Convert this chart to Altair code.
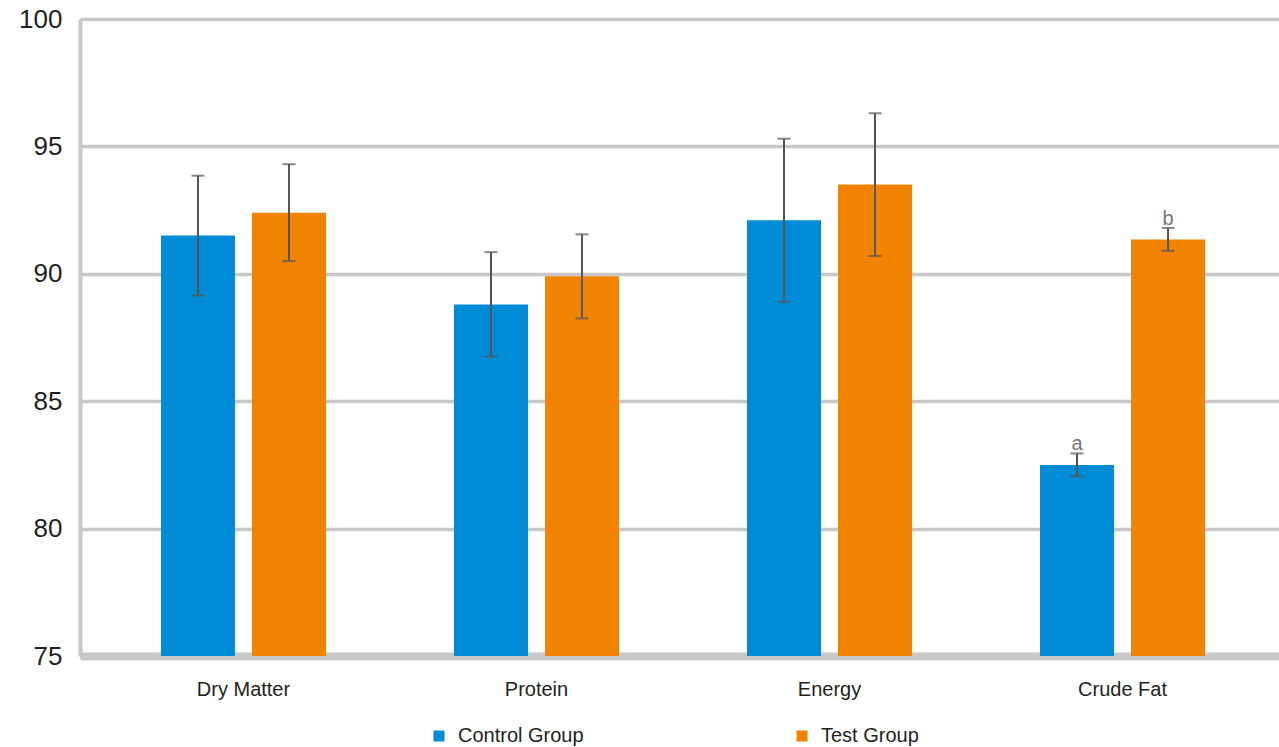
import altair as alt
import pandas as pd

# Digestibility (%) by nutrient, mean and standard deviation per group
categories = ["Dry Matter", "Protein", "Energy", "Crude Fat"]
groups = ["Control Group", "Test Group"]
control_mean = [91.5, 88.8, 92.1, 82.5]
control_sd = [2.35, 2.05, 3.2, 0.45]
test_mean = [92.4, 89.9, 93.5, 91.35]
test_sd = [1.9, 1.65, 2.8, 0.45]
# significance letters (only shown where the groups differ)
control_letter = ["", "", "", "a"]
test_letter = ["", "", "", "b"]
colors = ["#008bd6", "#f08300"]

rows = []
for i, cat in enumerate(categories):
    for grp, m, s, let in (
        (groups[0], control_mean[i], control_sd[i], control_letter[i]),
        (groups[1], test_mean[i], test_sd[i], test_letter[i]),
    ):
        rows.append({"nutrient": cat, "group": grp, "mean": m,
                     "low": m - s, "high": m + s, "letter": let})
df = pd.DataFrame(rows)

FONT = "Liberation Sans"

x_enc = alt.X("nutrient:N", sort=categories, title=None,
              scale=alt.Scale(paddingInner=0, paddingOuter=0.046, align=0.63),
              axis=alt.Axis(labelAngle=0, ticks=False, labelPadding=23,
                            labelFontSize=20, labelColor="#231f20", labelFont=FONT,
                            domainColor="#c8c8c8", domainWidth=8, grid=False))
x_off = alt.XOffset("group:N", sort=groups,
                    scale=alt.Scale(paddingInner=0.187, paddingOuter=0.703))
y_scale = alt.Scale(domain=[75, 100], zero=False, nice=False)

bars = alt.Chart(df).mark_bar().encode(
    x=x_enc,
    xOffset=x_off,
    y=alt.Y("mean:Q", scale=y_scale, title=None,
            axis=alt.Axis(values=[75, 80, 85, 90, 95, 100], ticks=False,
                          labelPadding=18, labelFontSize=26, labelColor="#231f20",
                          labelFont=FONT, domainColor="#c8c8c8", domainWidth=4,
                          gridColor="#c8c8c8", gridWidth=3.5)),
    y2=alt.datum(75),
    color=alt.Color("group:N", sort=groups,
                    scale=alt.Scale(domain=groups, range=colors),
                    legend=alt.Legend(title=None, orient="none", direction="horizontal",
                                      columns=2, legendX=349, legendY=707,
                                      symbolType="square", symbolSize=121,
                                      symbolStrokeWidth=0, labelFontSize=20,
                                      labelFont=FONT, labelColor="#231f20",
                                      labelOffset=9, columnPadding=208,
                                      labelLimit=400)),
)

whisker = alt.Chart(df).mark_rule(color="#555555", strokeWidth=2).encode(
    x=alt.X("nutrient:N", sort=categories),
    xOffset=x_off,
    y=alt.Y("low:Q", scale=y_scale),
    y2="high:Q",
)

cap_low = alt.Chart(df).mark_tick(color="#555555", thickness=2, size=13,
                                   orient="horizontal").encode(
    x=alt.X("nutrient:N", sort=categories),
    xOffset=x_off,
    y=alt.Y("low:Q", scale=y_scale),
)
cap_high = alt.Chart(df).mark_tick(color="#555555", thickness=2, size=13,
                                    orient="horizontal").encode(
    x=alt.X("nutrient:N", sort=categories),
    xOffset=x_off,
    y=alt.Y("high:Q", scale=y_scale),
)

letters = alt.Chart(df).mark_text(color="#777777", fontSize=20, font=FONT,
                                  baseline="bottom", dy=1).encode(
    x=alt.X("nutrient:N", sort=categories),
    xOffset=x_off,
    y=alt.Y("high:Q", scale=y_scale),
    text="letter:N",
)

chart = alt.layer(bars, whisker, cap_low, cap_high, letters).properties(
    width=1199,
    height=637,
    autosize=alt.AutoSizeParams(type="none"),
    padding={"left": 80, "top": 19, "right": 0, "bottom": 91},
).configure_view(stroke=None).configure(background="white")

chart.save("out.html", embed_options={"renderer": "svg", "actions": False})
